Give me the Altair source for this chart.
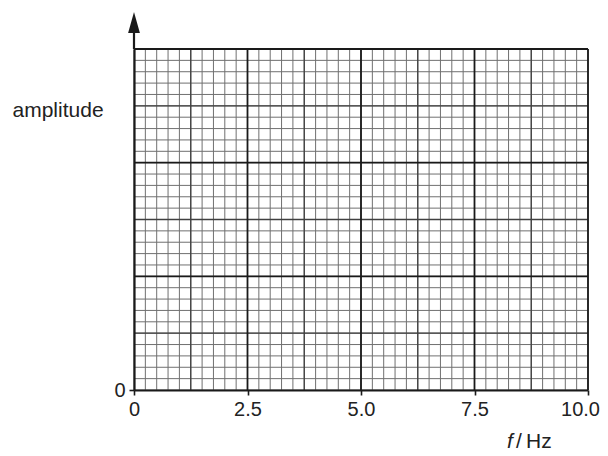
import altair as alt
import numpy as np
import pandas as pd

# Axis ticks / labels
x_ticks = [0, 2.5, 5.0, 7.5, 10.0]
y_ticks = [0]
x_domain = [0, 10]
y_domain = [0, 3]

# Graph-paper grid lines
x_minor = list(np.round(np.arange(0, 10.0001, 0.25), 4))
x_medium = [1.25, 3.75, 6.25, 8.75]
x_major = [2.5, 5.0, 7.5, 10.0]
y_minor = list(np.round(np.arange(0, 3.0001, 0.1), 4))
y_medium = [0.5, 1.5, 2.5]
y_major = [1, 2, 3]

W, H = 454, 341
FONT = "Liberation Sans"
TXT = "#222222"

xs = alt.Scale(domain=x_domain, nice=False, zero=False)
ys = alt.Scale(domain=y_domain, nice=False, zero=False)

x_axis = alt.Axis(
    values=x_ticks, labelExpr="datum.value == 0 ? '0' : format(datum.value, '.1f')",
    grid=False, title=None, domainColor="#1a1a1a", domainWidth=2.2,
    tickColor="#1a1a1a", tickWidth=1.6, tickSize=5, labelPadding=4,
    labelFont=FONT, labelFontSize=20, labelColor=TXT, labelFlush=False,
    labelOffset={"condition": {"test": "datum.value == 10", "value": -8}, "value": 0},
    labelOverlap=False, zindex=2)
y_axis = alt.Axis(
    values=y_ticks, grid=False, title="amplitude", titleAngle=0,
    titleAlign="left", titleBaseline="alphabetic", titleX=-122, titleY=67,
    titleFont=FONT, titleFontSize=21, titleFontWeight="normal", titleColor=TXT,
    domainColor="#1a1a1a", domainWidth=2.2, tickColor="#1a1a1a", tickWidth=1.6,
    tickSize=5, labelPadding=4, labelFont=FONT, labelFontSize=20,
    labelColor=TXT, labelBaseline="middle", zindex=2)


def vlines(vals, color, width):
    return alt.Chart(pd.DataFrame({"x": vals})).mark_rule(
        color=color, strokeWidth=width
    ).encode(
        x=alt.X("x:Q", scale=xs, axis=x_axis),
        y=alt.value(0), y2=alt.value(H),
    )


def hlines(vals, color, width):
    return alt.Chart(pd.DataFrame({"y": vals})).mark_rule(
        color=color, strokeWidth=width
    ).encode(
        y=alt.Y("y:Q", scale=ys, axis=y_axis),
        x=alt.value(0), x2=alt.value(W),
    )


one = pd.DataFrame({"k": [0]})

shaft = alt.Chart(one).mark_rule(color="#1a1a1a", strokeWidth=2.2, clip=False).encode(
    x=alt.value(0), y=alt.value(-22), y2=alt.value(0)
)
head = alt.Chart(one).mark_point(
    shape="M0,-1L0.56,1L-0.56,1Z", filled=True, color="#1a1a1a", opacity=1,
    size=441, clip=False
).encode(x=alt.value(0), y=alt.value(-26.5))

f_txt = alt.Chart(one).mark_text(
    text="f", font=FONT, fontSize=21, fontStyle="italic", color=TXT,
    align="left", baseline="alphabetic"
).encode(x=alt.value(373), y=alt.value(399))
hz_txt = alt.Chart(one).mark_text(
    text="/\u2009Hz", font=FONT, fontSize=21, color=TXT,
    align="left", baseline="alphabetic"
).encode(x=alt.value(382), y=alt.value(399))

chart = alt.layer(
    vlines(x_minor, "#707070", 1.0),
    hlines(y_minor, "#707070", 1.0),
    vlines(x_medium, "#404040", 1.3),
    hlines(y_medium, "#404040", 1.3),
    vlines(x_major, "#1a1a1a", 1.8),
    hlines(y_major, "#1a1a1a", 1.8),
    shaft, head, f_txt, hz_txt,
).properties(
    width=W, height=H,
    autosize=alt.AutoSizeParams(type="none"),
    padding={"left": 126, "top": 41, "right": 12, "bottom": 66},
    background="white",
).configure_view(stroke=None)

chart.save("out.html", embed_options={"renderer": "svg", "actions": False})
